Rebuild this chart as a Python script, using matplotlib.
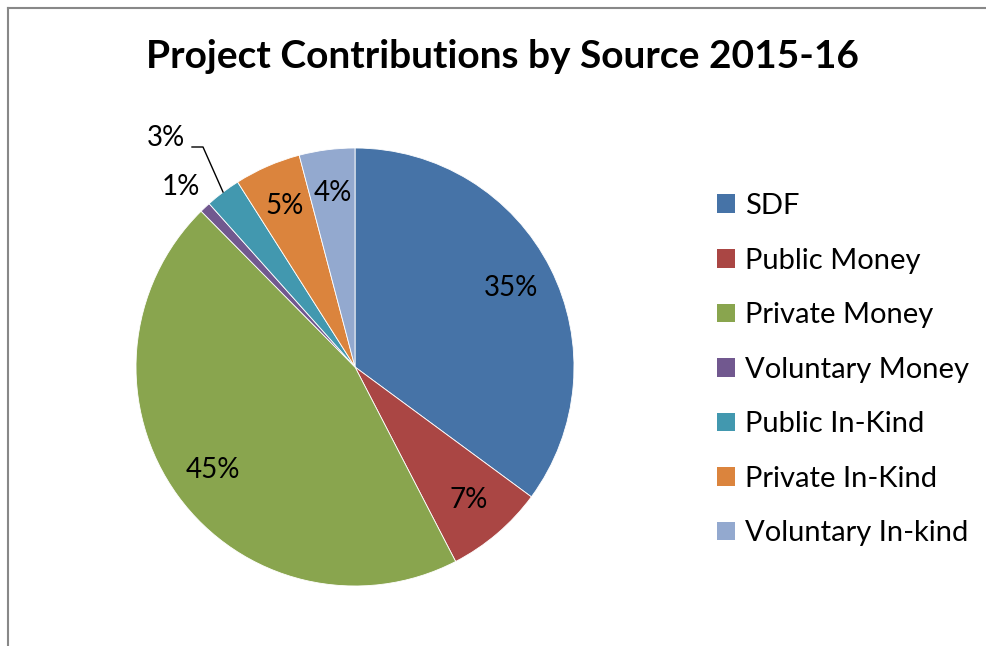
import matplotlib
matplotlib.use('Agg')
import matplotlib.pyplot as plt
from matplotlib.patches import Patch
import numpy as np

# data (percent of total)
sources = ['SDF', 'Public Money', 'Private Money', 'Voluntary Money',
           'Public In-Kind', 'Private In-Kind', 'Voluntary In-kind']
shares = [35.1, 7.3, 45.2, 0.8, 2.6, 4.9, 4.1]
colors = ['#4673A7', '#AA4644', '#89A54E', '#71588F', '#4298AF', '#DB843D', '#93A9CF']

plt.rcParams['font.family'] = ['Lato', 'DejaVu Sans']

W, H = 986, 646
fig = plt.figure(figsize=(W / 100, H / 100), dpi=100)

# chart border (left and top edge visible in the original)
fig.add_artist(plt.Line2D([8 / W, 8 / W], [0, 1 - 8 / H], color='#888888', lw=1.5))
fig.add_artist(plt.Line2D([8 / W, 1], [1 - 8 / H, 1 - 8 / H], color='#888888', lw=1.5))

fig.text(502 / W, 1 - 57 / H, 'Project Contributions by Source 2015-16',
         ha='center', va='center', fontsize=28, fontweight='bold')

cx, cy, r = 355, 367, 219
ax = fig.add_axes([(cx - r) / W, (H - cy - r) / H, 2 * r / W, 2 * r / H])
wedges, texts, autotexts = ax.pie(shares, colors=colors, startangle=90, counterclock=False,
                                  autopct=lambda p: '%.0f%%' % p, pctdistance=0.8,
                                  wedgeprops=dict(edgecolor='white', linewidth=0.6),
                                  textprops=dict(fontsize=20))
ax.set_xlim(-1, 1)
ax.set_ylim(-1, 1)
ax.set_aspect('equal')
ax.axis('off')

# small slices get their labels outside
def px(x, y):
    return (x - cx) / r, (cy - y) / r

autotexts[3].set_position(px(181, 187))
autotexts[4].set_position(px(166, 138))
p1, p2, p3 = px(192, 147), px(203, 147), px(223, 192)
ax.plot([p1[0], p2[0], p3[0]], [p1[1], p2[1], p3[1]], color='black', lw=1, clip_on=False)

handles = [Patch(facecolor=c, edgecolor='none') for c in colors]
fig.legend(handles, sources, loc='upper left', bbox_to_anchor=(717 / W, 1 - 193 / H),
           frameon=False, fontsize=21, handlelength=0.6, handleheight=0.6,
           handletextpad=0.36, labelspacing=0.98, borderpad=0, borderaxespad=0)

fig.savefig('out.png', dpi=100)
